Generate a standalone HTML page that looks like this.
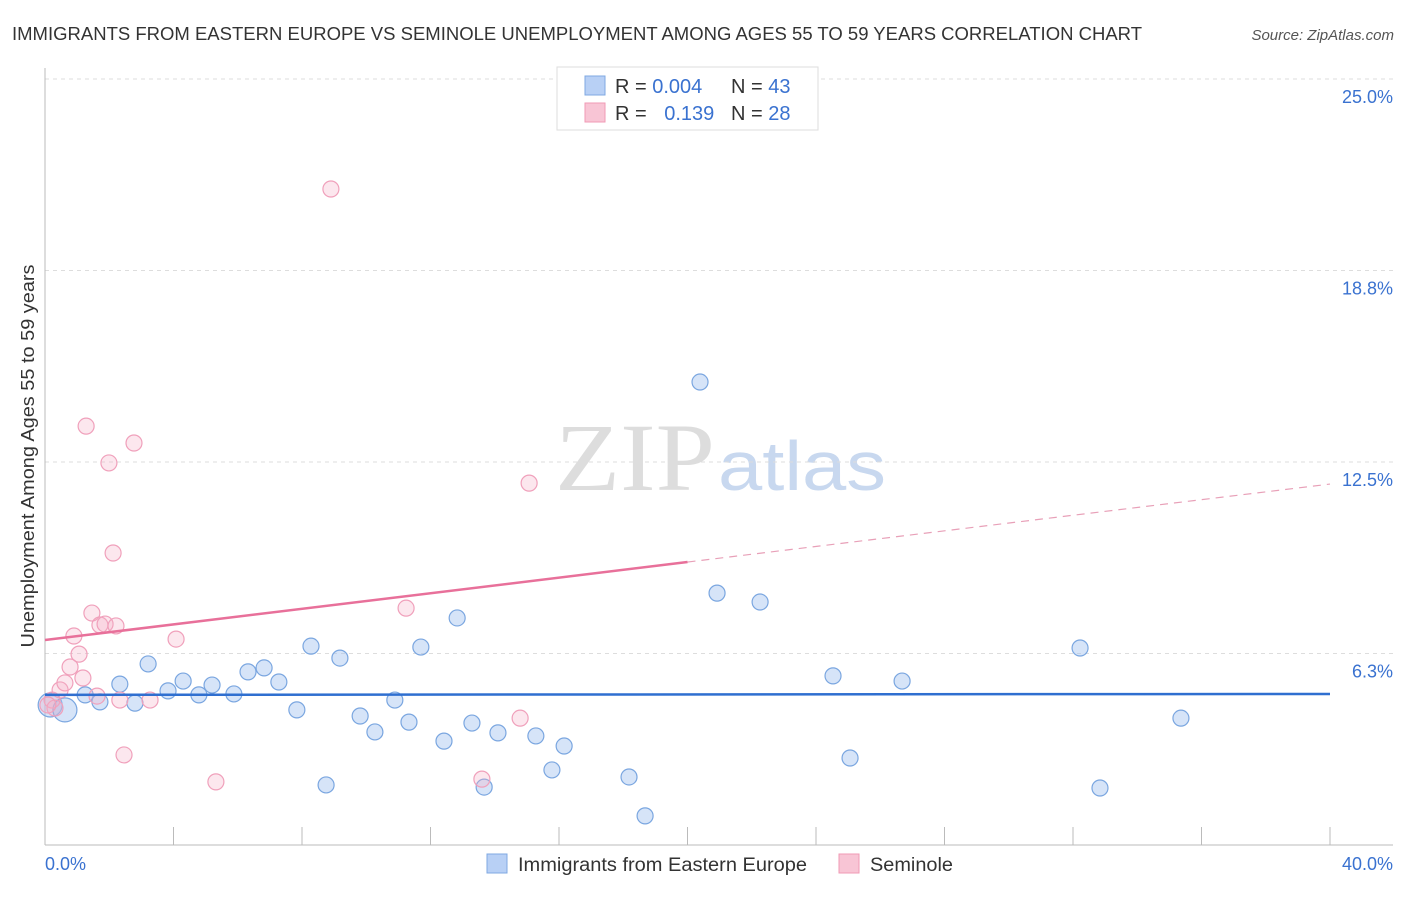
<!DOCTYPE html>
<html><head><meta charset="utf-8"><style>
body{margin:0;background:#fff;font-family:"Liberation Sans",sans-serif;}
</style></head><body>
<svg id="c" width="1406" height="892" xmlns="http://www.w3.org/2000/svg">
<text x="12" y="40" font-size="18" fill="#333" textLength="1130" lengthAdjust="spacingAndGlyphs">IMMIGRANTS FROM EASTERN EUROPE VS SEMINOLE UNEMPLOYMENT AMONG AGES 55 TO 59 YEARS CORRELATION CHART</text>
<text x="1394" y="40" font-size="15" fill="#555" font-style="italic" text-anchor="end">Source: ZipAtlas.com</text>
<text x="555" y="490" font-size="96" fill="#ddd" font-family="Liberation Serif" textLength="160" lengthAdjust="spacingAndGlyphs">ZIP</text>
<text x="718" y="490" font-size="70" fill="#c8d8ef" textLength="168" lengthAdjust="spacingAndGlyphs">atlas</text>
<g id="grid"></g><g id="marks"></g>
<text transform="translate(34,456) rotate(-90)" font-size="18" fill="#333" text-anchor="middle" textLength="383" lengthAdjust="spacingAndGlyphs">Unemployment Among Ages 55 to 59 years</text>
<text x="45" y="870" font-size="18" fill="#3a72d0">0.0%</text>
<text x="1393" y="870" font-size="18" fill="#3a72d0" text-anchor="end">40.0%</text>
<g>
<rect x="557" y="67" width="261" height="63" fill="#fff" stroke="#ddd"/>
<rect x="585" y="76" width="20" height="19" fill="#b8d0f5" stroke="#7fa8e2"/>
<rect x="585" y="103" width="20" height="19" fill="#f8c5d5" stroke="#f09ab5"/>
<text x="615" y="93" font-size="20" fill="#333">R = <tspan fill="#3a72d0">0.004</tspan></text>
<text x="731" y="93" font-size="20" fill="#333">N = <tspan fill="#3a72d0">43</tspan></text>
<text x="615" y="120" font-size="20" fill="#333">R = <tspan fill="#3a72d0" dx="12">0.139</tspan></text>
<text x="731" y="120" font-size="20" fill="#333">N = <tspan fill="#3a72d0">28</tspan></text>
</g>
<g>
<rect x="487" y="854" width="20" height="19" fill="#b8d0f5" stroke="#7fa8e2"/>
<text x="518" y="871" font-size="19" fill="#333" textLength="289" lengthAdjust="spacingAndGlyphs">Immigrants from Eastern Europe</text>
<rect x="839" y="854" width="20" height="19" fill="#f8c5d5" stroke="#f09ab5"/>
<text x="870" y="871" font-size="19" fill="#333" textLength="83" lengthAdjust="spacingAndGlyphs">Seminole</text>
</g>
</svg>
<script>
const yTicks=[6.25,12.5,18.75,25];
const yTickLabels=["6.3%","12.5%","18.8%","25.0%"];
const xTicks=[0,4,8,12,16,20,24,28,32,36,40];
const blueX=[0.16,0.62,1.25,1.71,2.33,2.80,3.21,3.83,4.30,4.79,5.20,5.88,6.32,6.82,7.28,7.84,8.28,8.75,9.18,9.81,10.27,10.89,11.33,11.70,12.42,12.83,13.29,13.67,14.10,15.28,15.78,16.16,18.18,18.68,20.39,20.92,22.26,24.53,25.06,26.68,32.22,32.84,35.36];
const blueY=[4.57,4.41,4.90,4.67,5.25,4.63,5.91,5.03,5.35,4.90,5.22,4.93,5.65,5.78,5.32,4.41,6.49,1.96,6.10,4.21,3.69,4.73,4.01,6.46,3.39,7.41,3.98,1.89,3.66,3.56,2.45,3.23,2.22,0.95,15.11,8.22,7.93,5.52,2.84,5.35,6.43,1.86,4.14];
const pinkX=[0.22,0.31,0.47,0.62,0.78,0.90,1.06,1.18,1.28,1.46,1.62,1.71,1.87,1.99,2.12,2.21,2.33,2.46,2.77,3.27,4.08,5.32,8.90,11.24,13.60,14.79,15.07,0.09];
const pinkY=[4.73,4.47,5.06,5.29,5.81,6.82,6.23,5.45,13.67,7.57,4.86,7.18,7.21,12.47,9.53,7.15,4.73,2.94,13.12,4.73,6.72,2.06,21.41,7.73,2.15,4.14,11.81,4.57];
const blueTrend=[4.90,4.93];
const pinkTrend=[6.69,11.78];
const pinkSolidEnd=20;
const NS="http://www.w3.org/2000/svg";
const X=v=>45+v*(1285/40), Y=v=>845-v*30.64;
function mk(p,t,a){const e=document.createElementNS(NS,t);for(const k in a)e.setAttribute(k,a[k]);p.appendChild(e);return e;}
const g=document.getElementById('grid'),m=document.getElementById('marks');
yTicks.forEach((t,i)=>{
 const l=mk(g,'line',{x1:45,x2:1393,y1:Y(t),y2:Y(t),stroke:'#ddd','stroke-dasharray':'4,4'});
 
 
 const tx=mk(g,'text',{x:1393,y:Y(t)+24,'font-size':18,fill:'#3a72d0','text-anchor':'end'});tx.textContent=yTickLabels[i];
 
 
});
const ax=mk(g,'line',{x1:45,x2:1393,y1:845,y2:845,stroke:'#bbb'});


const ay=mk(g,'line',{x1:45,x2:45,y1:68,y2:845,stroke:'#bbb'});


xTicks.forEach(t=>{const l=mk(g,'line',{x1:X(t),x2:X(t),y1:827,y2:845,stroke:'#bbb'});
 
 });
blueX.forEach((v,i)=>{const c=mk(m,'circle',{cx:X(v),cy:Y(blueY[i]),r:i<2?12:8,fill:'rgba(165,195,240,0.45)',stroke:'#7aa6e0','stroke-width':1.2});
 
 });
pinkX.forEach((v,i)=>{const c=mk(m,'circle',{cx:X(v),cy:Y(pinkY[i]),r:8,fill:'rgba(245,175,200,0.3)',stroke:'#f0a0bb','stroke-width':1.2});
 
 });
const pv=x=>pinkTrend[0]+(pinkTrend[1]-pinkTrend[0])*x/40;
const bl=mk(m,'line',{x1:X(0),x2:X(40),y1:Y(blueTrend[0]),y2:Y(blueTrend[1]),stroke:'#2f6fd0','stroke-width':2.5});


const ps=mk(m,'line',{x1:X(0),x2:X(pinkSolidEnd),y1:Y(pv(0)),y2:Y(pv(pinkSolidEnd)),stroke:'#e8709a','stroke-width':2.5});


const pd=mk(m,'line',{x1:X(pinkSolidEnd),x2:X(40),y1:Y(pv(pinkSolidEnd)),y2:Y(pv(40)),stroke:'#e8a0b8','stroke-width':1.2,'stroke-dasharray':'8,6'});


</script>
</body></html>
